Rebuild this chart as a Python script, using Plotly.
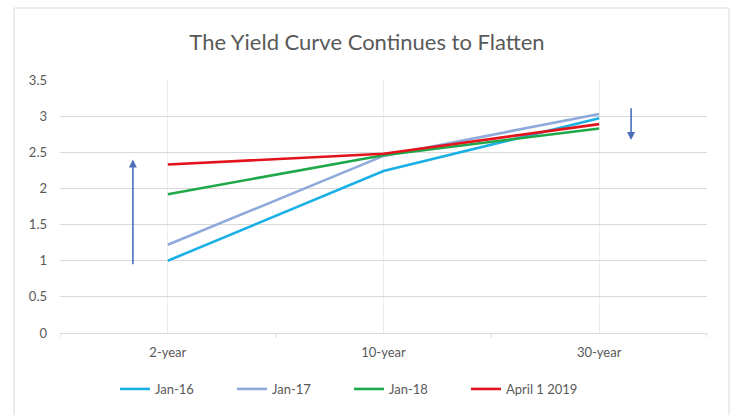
import plotly.graph_objects as go

categories = ["2-year", "10-year", "30-year"]
series_names = ["Jan-16", "Jan-17", "Jan-18", "April 1 2019"]
jan16 = [1.00, 2.24, 2.97]
jan17 = [1.22, 2.45, 3.03]
jan18 = [1.92, 2.46, 2.83]
apr19 = [2.33, 2.48, 2.89]
colors = ["#1ab0e6", "#8ea9db", "#1fa84a", "#e3131b"]
y_ticks = [0, 0.5, 1, 1.5, 2, 2.5, 3, 3.5]
y_tick_labels = ["0", "0.5", "1", "1.5", "2", "2.5", "3", "3.5"]

fig = go.Figure()
for name, vals, c in zip(series_names, [jan16, jan17, jan18, apr19], colors):
    fig.add_trace(go.Scatter(x=categories, y=vals, mode="lines", name=name,
                             line=dict(color=c, width=2.6)))

font_family = "Lato, 'Open Sans', sans-serif"
fig.update_layout(
    width=734, height=415,
    margin=dict(l=60, r=27, t=80, b=82, autoexpand=False),
    paper_bgcolor="white", plot_bgcolor="white",
    title=dict(text="The Yield Curve Continues to Flatten", x=0.5, xanchor="center",
               y=1 - 42 / 415, yanchor="middle",
               font=dict(family=font_family, size=22, color="#595959")),
    showlegend=True,
    legend=dict(orientation="h", x=(115 - 60) / 647, xanchor="left",
                yref="container", y=(415 - 389) / 415, yanchor="middle",
                entrywidth=72, entrywidthmode="pixels", itemwidth=30,
                font=dict(family=font_family, size=13, color="#595959")),
    xaxis=dict(range=[-0.5, 2.5], showgrid=True, gridcolor="#ededed", gridwidth=1,
               showline=True, linecolor="#d9d9d9", linewidth=1,
               ticks="", ticklen=0, ticklabelstandoff=7,
               tickfont=dict(family=font_family, size=13, color="#595959"),
               zeroline=False, fixedrange=True, automargin=False),
    yaxis=dict(range=[0, 3.5], tickvals=y_ticks, ticktext=y_tick_labels,
               showgrid=True, gridcolor="#d9d9d9", gridwidth=1, zeroline=False,
               showline=False, ticks="", ticklen=0, ticklabelstandoff=12,
               tickfont=dict(family=font_family, size=13, color="#595959"),
               fixedrange=True, automargin=False),
)

# category boundary tick marks
for xb in [-0.5, 0.5, 1.5, 2.5]:
    fig.add_shape(type="line", xref="x", yref="paper", x0=xb, x1=xb, y0=0, y1=-0.02,
                  line=dict(color="#d9d9d9", width=1))

# chart border
fig.add_shape(type="rect", xref="paper", yref="paper",
              x0=(14 - 60) / 647, x1=(729 - 60) / 647,
              y0=-0.5, y1=(333 - 8) / 253,
              line=dict(color="#d9d9d9", width=1), layer="below")

# arrows
fig.add_annotation(x=-0.162, y=2.4, ax=-0.162, ay=0.93, xref="x", yref="y",
                   axref="x", ayref="y", showarrow=True, arrowhead=2, arrowsize=1,
                   arrowwidth=1.6, arrowcolor="#4a6fb8", text="")
fig.add_annotation(x=2.148, y=2.67, ax=2.148, ay=3.13, xref="x", yref="y",
                   axref="x", ayref="y", showarrow=True, arrowhead=2, arrowsize=1,
                   arrowwidth=1.6, arrowcolor="#4a6fb8", text="")

fig.write_html("out.html", config={"displayModeBar": False},
               post_script="document.body.style.margin='0';document.body.style.overflow='hidden';")
